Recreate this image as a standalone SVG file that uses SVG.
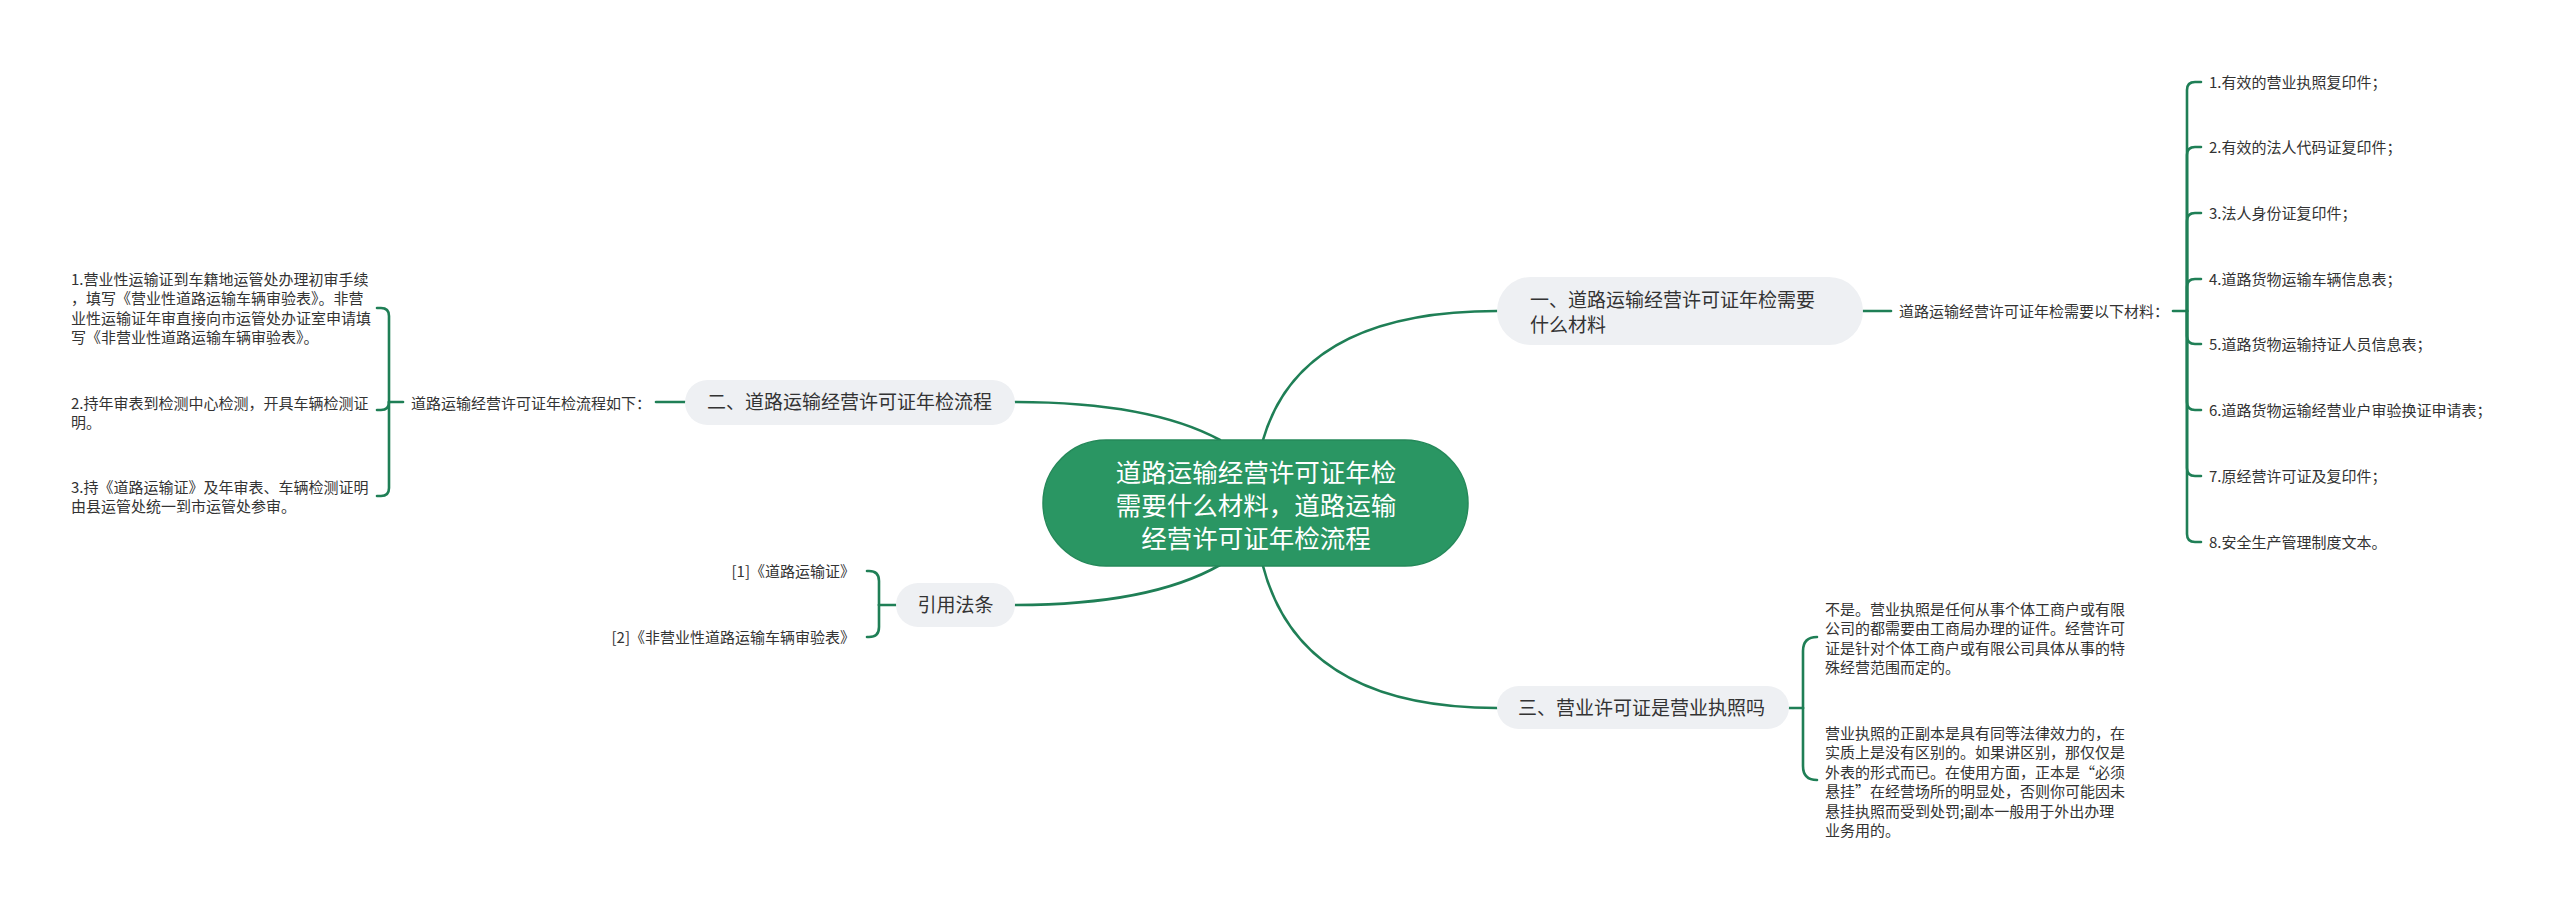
<svg xmlns="http://www.w3.org/2000/svg" width="2560" height="907" viewBox="0 0 2560 907">
<style>
.bg{fill:#ffffff}
.link{fill:none;stroke:#1f7f56;stroke-width:2.6;stroke-linecap:round}
.root{fill:#2a9663;stroke:#25895a;stroke-width:1.5}
.rootText{font-family:"Noto Sans CJK SC","Noto Sans",sans-serif;font-size:25.5px;fill:#ffffff;text-anchor:middle}
.branch{fill:#eef0f3}
.bText{font-family:"Noto Sans CJK SC","Noto Sans",sans-serif;font-size:19px;fill:#333333}
.sText{font-family:"Noto Sans CJK SC","Noto Sans",sans-serif;font-size:15px;fill:#333333}
</style>
<rect class="bg" x="0" y="0" width="2560" height="907"/>

<g id="connectors">
  <!-- root to branches -->
  <path class="link" d="M1263 440 Q1300 311 1497 311"/>
  <path class="link" d="M1263 566 Q1300 708 1497 708"/>
  <path class="link" d="M1220 440 Q1150 402 1015 402"/>
  <path class="link" d="M1220 565 Q1150 605 1015 605"/>

  <!-- branch 1 to label -->
  <path class="link" d="M1863 311 H1891"/>
  <path class="link" d="M2173 311 H2187"/>
  <!-- bracket for materials list -->
  <path class="link" d="M2187 311 V90 Q2187 82 2195 82 H2201"/>
  <path class="link" d="M2187 311 V155 Q2187 147 2195 147 H2201"/>
  <path class="link" d="M2187 311 V221 Q2187 213 2195 213 H2201"/>
  <path class="link" d="M2187 311 V287 Q2187 279 2195 279 H2201"/>
  <path class="link" d="M2187 311 V336 Q2187 344 2195 344 H2201"/>
  <path class="link" d="M2187 311 V402 Q2187 410 2195 410 H2201"/>
  <path class="link" d="M2187 311 V468 Q2187 476 2195 476 H2201"/>
  <path class="link" d="M2187 311 V534 Q2187 542 2195 542 H2201"/>

  <!-- branch 3 bracket -->
  <path class="link" d="M1789 708 H1803"/>
  <path class="link" d="M1803 708 V651 Q1803 637 1817 637"/>
  <path class="link" d="M1803 708 V766 Q1803 780 1817 780"/>

  <!-- branch 2 to label and bracket -->
  <path class="link" d="M685 402 H656"/>
  <path class="link" d="M403 402 H389"/>
  <path class="link" d="M389 402 V316 Q389 308 381 308 H377"/>
  <path class="link" d="M389 402 Q389 410 381 410 H377"/>
  <path class="link" d="M389 402 V488 Q389 496 381 496 H377"/>

  <!-- citations bracket -->
  <path class="link" d="M896 605 H879"/>
  <path class="link" d="M879 605 V581 Q879 571 869 571 H867"/>
  <path class="link" d="M879 605 V627 Q879 637 869 637 H867"/>
</g>

<g id="root">
  <rect class="root" x="1043" y="440" width="425" height="126" rx="63" ry="63"/>
  <text class="rootText" x="1256" y="481.5">道路运输经营许可证年检</text>
  <text class="rootText" x="1256" y="514.5">需要什么材料，道路运输</text>
  <text class="rootText" x="1256" y="547.5">经营许可证年检流程</text>
</g>

<g id="branch1">
  <rect class="branch" x="1497" y="277" width="366" height="68" rx="34" ry="34"/>
  <text class="bText" x="1530" y="307">一、道路运输经营许可证年检需要</text>
  <text class="bText" x="1530" y="332">什么材料</text>
</g>
<g id="branch1-label">
  <text class="sText" x="1899" y="316.5">道路运输经营许可证年检需要以下材料：</text>
</g>
<g id="materials">
  <text class="sText" x="2209" y="87.5">1.有效的营业执照复印件；</text>
  <text class="sText" x="2209" y="152.5">2.有效的法人代码证复印件；</text>
  <text class="sText" x="2209" y="218.5">3.法人身份证复印件；</text>
  <text class="sText" x="2209" y="284.5">4.道路货物运输车辆信息表；</text>
  <text class="sText" x="2209" y="349.5">5.道路货物运输持证人员信息表；</text>
  <text class="sText" x="2209" y="415.5">6.道路货物运输经营业户审验换证申请表；</text>
  <text class="sText" x="2209" y="481.5">7.原经营许可证及复印件；</text>
  <text class="sText" x="2209" y="547.5">8.安全生产管理制度文本。</text>
</g>

<g id="branch3">
  <rect class="branch" x="1497" y="686" width="292" height="43" rx="21.5" ry="21.5"/>
  <text class="bText" x="1518" y="715">三、营业许可证是营业执照吗</text>
</g>
<g id="branch3-para1">
  <text class="sText" x="1825" y="614.5">不是。营业执照是任何从事个体工商户或有限</text>
  <text class="sText" x="1825" y="634">公司的都需要由工商局办理的证件。经营许可</text>
  <text class="sText" x="1825" y="653.5">证是针对个体工商户或有限公司具体从事的特</text>
  <text class="sText" x="1825" y="673">殊经营范围而定的。</text>
</g>
<g id="branch3-para2">
  <text class="sText" x="1825" y="738.5">营业执照的正副本是具有同等法律效力的，在</text>
  <text class="sText" x="1825" y="758">实质上是没有区别的。如果讲区别，那仅仅是</text>
  <text class="sText" x="1825" y="777.5">外表的形式而已。在使用方面，正本是“必须</text>
  <text class="sText" x="1825" y="797">悬挂”在经营场所的明显处，否则你可能因未</text>
  <text class="sText" x="1825" y="816.5">悬挂执照而受到处罚;副本一般用于外出办理</text>
  <text class="sText" x="1825" y="836">业务用的。</text>
</g>

<g id="branch2">
  <rect class="branch" x="685" y="380" width="330" height="45" rx="22.5" ry="22.5"/>
  <text class="bText" x="707" y="409">二、道路运输经营许可证年检流程</text>
</g>
<g id="branch2-label">
  <text class="sText" x="411" y="408.5">道路运输经营许可证年检流程如下：</text>
</g>
<g id="step1">
  <text class="sText" x="71" y="284.5">1.营业性运输证到车籍地运管处办理初审手续</text>
  <text class="sText" x="71" y="304">，填写《营业性道路运输车辆审验表》。非营</text>
  <text class="sText" x="71" y="323.5">业性运输证年审直接向市运管处办证室申请填</text>
  <text class="sText" x="71" y="343">写《非营业性道路运输车辆审验表》。</text>
</g>
<g id="step2">
  <text class="sText" x="71" y="408.5">2.持年审表到检测中心检测，开具车辆检测证</text>
  <text class="sText" x="71" y="428">明。</text>
</g>
<g id="step3">
  <text class="sText" x="71" y="492.5">3.持《道路运输证》及年审表、车辆检测证明</text>
  <text class="sText" x="71" y="512">由县运管处统一到市运管处参审。</text>
</g>

<g id="branch4">
  <rect class="branch" x="896" y="583" width="119" height="44" rx="22" ry="22"/>
  <text class="bText" x="955.5" y="612" text-anchor="middle">引用法条</text>
</g>
<g id="cite1">
  <text class="sText" x="855" y="576.5" text-anchor="end">[1]《道路运输证》</text>
</g>
<g id="cite2">
  <text class="sText" x="855" y="642.5" text-anchor="end">[2]《非营业性道路运输车辆审验表》</text>
</g>
</svg>
